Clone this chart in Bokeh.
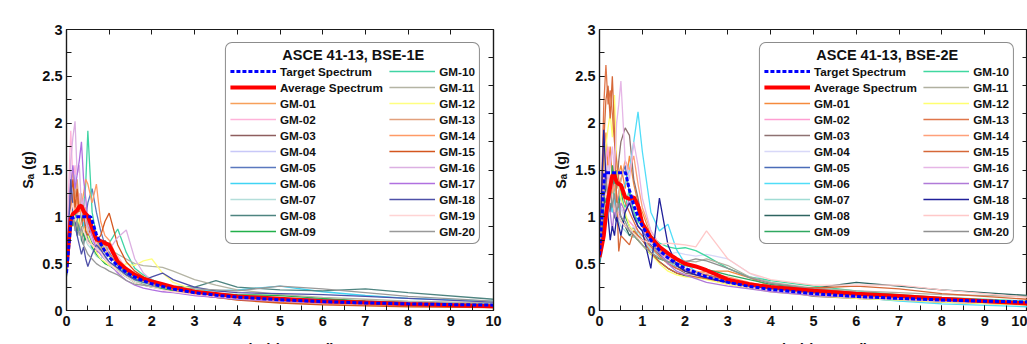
from bokeh.plotting import figure
from bokeh.layouts import row
from bokeh.models import FixedTicker, LinearAxis, Legend, LegendItem, Label, Range1d
from bokeh.embed import file_html
from bokeh.resources import INLINE

FONT = "Liberation Sans"

# ---------------- data ----------------
periods = [0.0, 0.05, 0.1, 0.15, 0.2, 0.25, 0.3, 0.35, 0.4, 0.45, 0.5, 0.6, 0.7, 0.8, 0.9, 1.0,
           1.2, 1.4, 1.6, 1.8, 2.0, 2.25, 2.5, 3.0, 3.5, 4.0, 5.0, 6.0, 7.0, 8.0, 10.0]

target_periods_1e = [0, 0.05, 0.11, 0.2, 0.3, 0.4, 0.5, 0.57, 0.7, 0.8, 0.9, 1.0, 1.2, 1.4, 1.6, 1.8,
                     2, 2.5, 3, 3.5, 4, 5, 6, 7, 8, 9, 10]
target_1e = [0.40, 0.66, 0.98, 1.0, 1.0, 1.0, 1.0, 1.0, 0.814, 0.713, 0.633, 0.57, 0.475, 0.407, 0.356,
             0.317, 0.285, 0.228, 0.19, 0.163, 0.143, 0.114, 0.095, 0.081, 0.071, 0.063, 0.057]
average_1e = [0.46, 0.72, 0.98, 1.03, 1.05, 1.07, 1.11, 1.12, 1.06, 1.03, 1.01, 0.88, 0.76, 0.74, 0.72, 0.70,
              0.52, 0.44, 0.38, 0.34, 0.31, 0.28, 0.25, 0.20, 0.175, 0.15, 0.125, 0.10, 0.085, 0.07, 0.045]

target_periods_2e = [0, 0.05, 0.12, 0.2, 0.3, 0.4, 0.5, 0.61, 0.7, 0.8, 0.9, 1.0, 1.2, 1.4, 1.6, 1.8,
                     2, 2.5, 3, 3.5, 4, 5, 6, 7, 8, 9, 10]
target_2e = [0.59, 0.95, 1.47, 1.47, 1.47, 1.47, 1.47, 1.47, 1.286, 1.125, 1.0, 0.9, 0.75, 0.643, 0.563,
             0.5, 0.45, 0.36, 0.3, 0.257, 0.225, 0.18, 0.15, 0.129, 0.113, 0.1, 0.09]
average_2e = [0.57, 0.68, 0.80, 1.02, 1.18, 1.32, 1.44, 1.45, 1.37, 1.35, 1.34, 1.21, 1.19, 1.21, 1.12, 0.93,
              0.78, 0.68, 0.61, 0.55, 0.50, 0.47, 0.43, 0.33, 0.28, 0.25, 0.21, 0.18, 0.155, 0.125, 0.075]

gm_names = ["GM-%02d" % i for i in range(1, 21)]

gm_1e_01 = [0.42, 0.70, 1.10, 1.25, 1.05, 1.30, 1.15, 0.95, 1.20, 1.00, 0.85, 0.90, 0.70, 0.62, 0.66, 0.58, 0.50, 0.45, 0.36, 0.32, 0.27, 0.24, 0.22, 0.17, 0.14, 0.12, 0.09, 0.07, 0.06, 0.05, 0.03]
gm_1e_02 = [0.45, 1.30, 1.92, 1.40, 1.55, 1.10, 1.25, 0.90, 1.00, 0.80, 0.85, 0.70, 0.72, 0.60, 0.55, 0.62, 0.58, 0.45, 0.35, 0.30, 0.28, 0.25, 0.21, 0.16, 0.14, 0.12, 0.10, 0.08, 0.06, 0.05, 0.04]
gm_1e_03 = [0.40, 0.85, 1.20, 1.05, 0.95, 0.85, 1.00, 0.90, 0.80, 0.95, 0.75, 0.70, 0.62, 0.66, 0.75, 0.68, 0.55, 0.40, 0.33, 0.28, 0.27, 0.24, 0.22, 0.19, 0.16, 0.14, 0.11, 0.10, 0.08, 0.07, 0.05]
gm_1e_04 = [0.44, 0.90, 1.35, 1.20, 1.45, 1.10, 0.95, 1.05, 0.85, 0.80, 0.90, 0.72, 0.60, 0.65, 0.55, 0.50, 0.47, 0.42, 0.38, 0.33, 0.30, 0.28, 0.25, 0.20, 0.17, 0.15, 0.12, 0.10, 0.09, 0.08, 0.06]
gm_1e_05 = [0.38, 0.70, 0.95, 1.10, 0.90, 1.05, 0.85, 0.95, 0.80, 1.00, 1.15, 1.30, 1.05, 0.85, 0.70, 0.62, 0.48, 0.40, 0.34, 0.30, 0.27, 0.24, 0.22, 0.19, 0.17, 0.15, 0.13, 0.12, 0.10, 0.09, 0.07]
gm_1e_06 = [0.40, 0.75, 1.15, 1.25, 1.00, 1.10, 0.90, 0.80, 0.95, 0.85, 0.80, 0.65, 0.70, 0.60, 0.55, 0.52, 0.45, 0.40, 0.35, 0.30, 0.28, 0.26, 0.24, 0.22, 0.21, 0.22, 0.26, 0.20, 0.16, 0.13, 0.10]
gm_1e_07 = [0.42, 0.80, 1.05, 0.95, 1.15, 0.90, 1.00, 0.85, 0.90, 0.75, 0.70, 0.65, 0.58, 0.55, 0.60, 0.52, 0.44, 0.38, 0.32, 0.29, 0.26, 0.23, 0.21, 0.18, 0.16, 0.14, 0.11, 0.09, 0.08, 0.07, 0.05]
gm_1e_08 = [0.36, 0.60, 0.85, 1.00, 0.90, 0.80, 0.95, 0.75, 0.70, 0.85, 0.80, 0.72, 0.65, 0.70, 0.62, 0.58, 0.52, 0.40, 0.33, 0.30, 0.28, 0.27, 0.26, 0.25, 0.32, 0.25, 0.22, 0.21, 0.23, 0.19, 0.12]
gm_1e_09 = [0.40, 0.70, 1.00, 0.90, 1.05, 0.85, 1.10, 0.95, 0.80, 0.75, 0.85, 0.68, 0.60, 0.55, 0.50, 0.48, 0.42, 0.36, 0.30, 0.27, 0.25, 0.23, 0.21, 0.19, 0.18, 0.17, 0.16, 0.13, 0.10, 0.08, 0.06]
gm_1e_10 = [0.40, 0.65, 0.90, 1.05, 0.95, 1.10, 1.00, 1.20, 1.05, 1.35, 1.92, 1.05, 0.80, 0.65, 0.70, 0.72, 0.87, 0.62, 0.45, 0.38, 0.33, 0.28, 0.24, 0.19, 0.16, 0.14, 0.11, 0.09, 0.08, 0.07, 0.05]
gm_1e_11 = [0.42, 0.80, 1.10, 1.00, 0.90, 1.05, 0.95, 0.85, 0.90, 0.80, 0.75, 0.70, 0.68, 0.72, 0.70, 0.66, 0.60, 0.55, 0.50, 0.48, 0.47, 0.46, 0.42, 0.33, 0.27, 0.22, 0.17, 0.14, 0.12, 0.10, 0.08]
gm_1e_12 = [0.40, 0.75, 1.05, 1.15, 0.95, 0.90, 1.00, 0.80, 0.85, 0.90, 0.80, 0.70, 0.62, 0.55, 0.52, 0.48, 0.45, 0.50, 0.48, 0.53, 0.55, 0.40, 0.30, 0.22, 0.18, 0.15, 0.11, 0.09, 0.07, 0.06, 0.04]
gm_1e_13 = [0.43, 0.85, 1.30, 1.50, 1.20, 1.40, 1.05, 1.25, 0.95, 1.10, 0.90, 0.80, 0.75, 0.65, 0.70, 0.60, 0.50, 0.42, 0.36, 0.31, 0.28, 0.25, 0.22, 0.17, 0.14, 0.12, 0.09, 0.07, 0.06, 0.05, 0.04]
gm_1e_14 = [0.40, 0.75, 1.10, 1.25, 1.05, 1.20, 1.00, 1.10, 1.25, 1.40, 1.35, 1.15, 1.35, 0.95, 0.80, 0.75, 0.55, 0.46, 0.40, 0.36, 0.32, 0.28, 0.24, 0.18, 0.15, 0.12, 0.09, 0.07, 0.06, 0.05, 0.04]
gm_1e_15 = [0.41, 0.80, 1.20, 1.40, 1.10, 1.30, 1.00, 0.90, 1.05, 0.85, 0.80, 0.90, 0.75, 0.80, 0.95, 1.04, 0.70, 0.52, 0.42, 0.36, 0.30, 0.26, 0.22, 0.17, 0.14, 0.11, 0.08, 0.06, 0.05, 0.04, 0.03]
gm_1e_16 = [0.45, 1.00, 1.60, 1.85, 2.02, 1.45, 1.55, 1.10, 1.20, 0.95, 0.85, 0.75, 0.68, 0.62, 0.60, 0.65, 0.78, 0.86, 0.55, 0.40, 0.32, 0.27, 0.23, 0.18, 0.15, 0.13, 0.10, 0.08, 0.07, 0.06, 0.04]
gm_1e_17 = [0.42, 0.95, 1.35, 1.55, 1.30, 1.45, 1.60, 1.80, 1.40, 1.20, 0.95, 0.80, 0.65, 0.60, 0.55, 0.50, 0.40, 0.32, 0.27, 0.24, 0.22, 0.20, 0.19, 0.16, 0.14, 0.12, 0.10, 0.08, 0.07, 0.06, 0.04]
gm_1e_18 = [0.38, 0.85, 1.40, 1.10, 0.95, 0.80, 0.70, 0.60, 0.68, 0.55, 0.47, 0.60, 0.70, 0.65, 0.58, 0.52, 0.45, 0.38, 0.33, 0.32, 0.36, 0.40, 0.33, 0.25, 0.21, 0.19, 0.18, 0.17, 0.15, 0.13, 0.09]
gm_1e_19 = [0.44, 0.80, 1.05, 1.15, 0.95, 1.00, 1.05, 0.90, 0.85, 0.80, 0.72, 0.70, 0.66, 0.62, 0.55, 0.50, 0.42, 0.36, 0.30, 0.27, 0.25, 0.22, 0.20, 0.17, 0.15, 0.13, 0.11, 0.10, 0.09, 0.08, 0.06]
gm_1e_20 = [0.37, 0.65, 0.90, 1.05, 0.85, 0.95, 0.80, 0.90, 0.70, 0.65, 0.60, 0.55, 0.50, 0.47, 0.45, 0.42, 0.38, 0.32, 0.28, 0.27, 0.26, 0.25, 0.24, 0.23, 0.22, 0.21, 0.26, 0.23, 0.19, 0.15, 0.10]

gm_2e_01 = [0.55, 1.00, 1.60, 1.90, 1.50, 1.75, 1.40, 1.60, 1.30, 1.45, 1.55, 1.30, 1.65, 1.35, 1.15, 1.05, 0.80, 0.65, 0.55, 0.48, 0.44, 0.40, 0.42, 0.42, 0.35, 0.26, 0.18, 0.14, 0.11, 0.09, 0.06]
gm_2e_02 = [0.58, 1.40, 2.00, 1.60, 1.75, 1.30, 1.45, 1.10, 1.25, 1.00, 1.10, 1.00, 0.95, 0.90, 0.85, 0.80, 0.70, 0.62, 0.55, 0.48, 0.42, 0.38, 0.34, 0.28, 0.24, 0.21, 0.16, 0.13, 0.11, 0.09, 0.07]
gm_2e_03 = [0.55, 0.95, 1.40, 1.20, 1.35, 1.10, 1.25, 1.45, 1.30, 1.60, 1.80, 1.95, 1.87, 1.40, 1.20, 0.95, 0.75, 0.60, 0.50, 0.45, 0.40, 0.38, 0.36, 0.32, 0.27, 0.23, 0.15, 0.13, 0.11, 0.09, 0.07]
gm_2e_04 = [0.60, 1.05, 1.45, 1.30, 1.55, 1.20, 1.05, 1.15, 0.95, 1.00, 1.10, 0.95, 0.85, 0.90, 0.80, 0.75, 0.65, 0.62, 0.60, 0.62, 0.60, 0.58, 0.60, 0.55, 0.40, 0.30, 0.22, 0.18, 0.15, 0.12, 0.08]
gm_2e_05 = [0.52, 0.85, 1.20, 1.35, 1.10, 1.30, 1.05, 1.20, 1.00, 1.25, 1.40, 1.55, 1.25, 1.05, 0.90, 0.85, 0.70, 0.60, 0.52, 0.47, 0.44, 0.40, 0.38, 0.33, 0.29, 0.26, 0.21, 0.18, 0.15, 0.12, 0.08]
gm_2e_06 = [0.50, 0.60, 0.95, 1.10, 1.30, 1.15, 1.05, 1.20, 1.00, 1.10, 1.25, 1.35, 1.50, 1.80, 2.12, 1.70, 1.05, 0.85, 0.92, 0.65, 0.50, 0.42, 0.36, 0.30, 0.26, 0.23, 0.18, 0.14, 0.10, 0.07, 0.04]
gm_2e_07 = [0.55, 0.95, 1.25, 1.15, 1.35, 1.10, 1.20, 1.00, 1.05, 0.95, 0.90, 0.85, 0.80, 0.78, 0.85, 0.75, 0.65, 0.58, 0.52, 0.48, 0.45, 0.40, 0.36, 0.30, 0.26, 0.22, 0.17, 0.14, 0.12, 0.10, 0.07]
gm_2e_08 = [0.50, 0.80, 1.10, 1.30, 1.15, 1.05, 1.25, 1.00, 0.95, 1.05, 1.00, 0.90, 0.80, 0.85, 0.75, 0.70, 0.60, 0.52, 0.45, 0.40, 0.37, 0.35, 0.34, 0.30, 0.27, 0.25, 0.24, 0.30, 0.26, 0.22, 0.16]
gm_2e_09 = [0.52, 0.85, 1.25, 1.15, 1.40, 1.20, 1.55, 1.35, 1.20, 1.10, 1.30, 1.00, 0.90, 0.80, 0.75, 0.70, 0.60, 0.55, 0.52, 0.50, 0.48, 0.46, 0.44, 0.38, 0.33, 0.28, 0.23, 0.19, 0.15, 0.12, 0.08]
gm_2e_10 = [0.55, 0.90, 1.30, 1.45, 1.25, 1.40, 1.15, 1.30, 1.50, 1.35, 1.20, 1.10, 1.30, 1.05, 0.95, 0.90, 0.80, 0.72, 0.68, 0.66, 0.67, 0.64, 0.58, 0.45, 0.36, 0.32, 0.26, 0.21, 0.17, 0.14, 0.10]
gm_2e_11 = [0.57, 0.95, 1.30, 1.20, 1.10, 1.25, 1.15, 1.05, 1.10, 1.00, 0.95, 0.90, 0.85, 0.88, 0.80, 0.75, 0.68, 0.62, 0.58, 0.55, 0.53, 0.52, 0.55, 0.48, 0.36, 0.30, 0.24, 0.21, 0.19, 0.17, 0.15]
gm_2e_12 = [0.55, 1.00, 1.50, 1.75, 1.95, 2.10, 1.85, 2.30, 1.60, 1.35, 1.20, 1.05, 0.90, 0.85, 0.75, 0.70, 0.60, 0.50, 0.42, 0.38, 0.36, 0.35, 0.33, 0.28, 0.24, 0.20, 0.16, 0.13, 0.11, 0.09, 0.06]
gm_2e_13 = [0.58, 1.30, 2.20, 2.62, 2.20, 2.35, 2.10, 1.80, 1.60, 1.40, 1.30, 1.15, 1.05, 0.95, 0.85, 0.80, 0.68, 0.58, 0.50, 0.45, 0.42, 0.40, 0.38, 0.32, 0.27, 0.23, 0.18, 0.15, 0.13, 0.11, 0.08]
gm_2e_14 = [0.55, 1.00, 1.40, 1.55, 1.30, 1.45, 1.25, 1.35, 1.15, 1.25, 1.40, 1.60, 1.50, 1.65, 1.35, 1.10, 0.85, 0.70, 0.58, 0.50, 0.45, 0.42, 0.40, 0.36, 0.30, 0.25, 0.20, 0.16, 0.13, 0.11, 0.08]
gm_2e_15 = [0.56, 1.10, 1.80, 2.25, 2.40, 2.05, 2.50, 1.90, 1.20, 0.63, 0.80, 0.75, 0.70, 0.85, 0.80, 0.75, 0.62, 0.52, 0.45, 0.40, 0.38, 0.36, 0.34, 0.30, 0.27, 0.25, 0.24, 0.26, 0.23, 0.18, 0.12]
gm_2e_16 = [0.55, 0.95, 1.40, 1.60, 1.35, 1.55, 1.75, 1.50, 2.00, 2.20, 2.45, 1.60, 1.40, 1.80, 1.55, 1.20, 0.85, 0.70, 0.58, 0.50, 0.45, 0.40, 0.36, 0.30, 0.25, 0.21, 0.17, 0.14, 0.12, 0.10, 0.07]
gm_2e_17 = [0.54, 0.95, 1.35, 1.50, 1.25, 1.05, 0.85, 1.10, 0.95, 1.00, 1.15, 1.05, 1.20, 1.00, 0.90, 0.85, 0.75, 0.62, 0.50, 0.42, 0.38, 0.34, 0.30, 0.26, 0.23, 0.20, 0.16, 0.14, 0.12, 0.10, 0.07]
gm_2e_18 = [0.52, 1.30, 1.93, 1.40, 1.00, 0.75, 0.90, 0.80, 1.00, 0.90, 0.80, 1.05, 1.15, 1.00, 0.90, 0.85, 0.45, 1.20, 0.70, 0.48, 0.42, 0.38, 0.35, 0.30, 0.26, 0.24, 0.20, 0.18, 0.15, 0.12, 0.08]
gm_2e_19 = [0.58, 0.95, 1.30, 1.20, 1.40, 1.15, 1.25, 1.05, 1.15, 1.00, 0.95, 0.90, 0.88, 0.82, 0.78, 0.75, 0.72, 0.70, 0.72, 0.71, 0.70, 0.68, 0.85, 0.55, 0.40, 0.33, 0.27, 0.27, 0.27, 0.22, 0.14]
gm_2e_20 = [0.53, 0.90, 1.25, 1.40, 1.20, 1.30, 1.10, 1.25, 1.05, 1.15, 1.00, 0.95, 0.85, 0.80, 0.75, 0.70, 0.62, 0.56, 0.52, 0.50, 0.52, 0.55, 0.53, 0.45, 0.35, 0.29, 0.23, 0.19, 0.16, 0.13, 0.09]

gms_1e = [gm_1e_01, gm_1e_02, gm_1e_03, gm_1e_04, gm_1e_05, gm_1e_06, gm_1e_07, gm_1e_08, gm_1e_09, gm_1e_10,
          gm_1e_11, gm_1e_12, gm_1e_13, gm_1e_14, gm_1e_15, gm_1e_16, gm_1e_17, gm_1e_18, gm_1e_19, gm_1e_20]
gms_2e = [gm_2e_01, gm_2e_02, gm_2e_03, gm_2e_04, gm_2e_05, gm_2e_06, gm_2e_07, gm_2e_08, gm_2e_09, gm_2e_10,
          gm_2e_11, gm_2e_12, gm_2e_13, gm_2e_14, gm_2e_15, gm_2e_16, gm_2e_17, gm_2e_18, gm_2e_19, gm_2e_20]

colors_1e = ["#F7A05A", "#FFB3D9", "#8E5E5E", "#C8C8F8", "#5A78BE", "#40D4F4", "#B4DEDA", "#4E8480",
             "#22B04A", "#40D4A4", "#B4B4A4", "#FFFF80", "#E2A07C", "#FF9A66", "#D4561E", "#DCB0E2",
             "#B070E0", "#4E50A8", "#FFD4D4", "#999999"]
colors_2e = ["#F58A3C", "#FF9ED2", "#8E7272", "#D8D8F8", "#4A6CB8", "#50DDF8", "#A0DCD4", "#2E6460",
             "#30A860", "#40D8A0", "#B0B0A0", "#FFFF70", "#E0764A", "#FFA07A", "#D66838", "#E6B6E6",
             "#B07AD8", "#20209A", "#FFC8C8", "#909090"]

x_ticks = list(range(0, 11))
x_minor = [i * 0.5 for i in range(0, 21)]
y_ticks = [0, 0.5, 1, 1.5, 2, 2.5, 3]
y_minor = [i * 0.25 for i in range(0, 13)]
y_right_ticks = [round(i * 0.3, 1) for i in range(0, 11)]

NBSP = "\u00a0"


def style_axis(ax, ticks, minor=None, labels=True):
    ax.ticker = FixedTicker(ticks=ticks, minor_ticks=minor or [])
    ax.axis_line_color = "#1a1a1a"
    ax.axis_line_width = 1.2
    ax.major_tick_in = 5
    ax.major_tick_out = 0
    ax.minor_tick_in = 5
    ax.minor_tick_out = 0
    ax.major_tick_line_color = "#1a1a1a"
    ax.minor_tick_line_color = "#1a1a1a"
    ax.major_label_text_font = FONT
    ax.major_label_text_font_style = "bold"
    ax.major_label_text_color = "#111111"
    ax.major_label_text_font_size = "14.5px"
    if not labels:
        ax.major_label_overrides = {t: "" for t in ticks}
        ax.major_label_standoff = 0


def make_panel(title, tp, target, avg, gms, colors, width, borders):
    left, right, top, bottom = borders
    p = figure(width=width, height=344, x_range=Range1d(0, 10), y_range=Range1d(0, 3),
               output_backend="svg", toolbar_location=None,
               min_border_left=left, min_border_right=right,
               min_border_top=top, min_border_bottom=bottom)
    p.xgrid.visible = False
    p.ygrid.visible = False
    p.outline_line_color = "#1a1a1a"
    p.outline_line_width = 1.2
    p.background_fill_color = "white"

    style_axis(p.xaxis[0], x_ticks, x_minor)
    p.xaxis[0].major_label_standoff = 5
    style_axis(p.yaxis[0], y_ticks, y_minor)
    p.yaxis[0].major_label_standoff = 4
    p.yaxis[0].axis_label = "S\u2090 (g)"
    p.yaxis[0].axis_label_text_font = FONT
    p.yaxis[0].axis_label_text_font_style = "bold"
    p.yaxis[0].axis_label_text_font_size = "14.5px"
    p.yaxis[0].axis_label_text_color = "#111111"
    p.yaxis[0].axis_label_standoff = 3

    top_ax = LinearAxis()
    style_axis(top_ax, x_ticks, None, labels=False)
    p.add_layout(top_ax, "above")
    right_ax = LinearAxis()
    style_axis(right_ax, y_right_ticks, None, labels=False)
    p.add_layout(right_ax, "right")

    renderers = []
    for vals, col in zip(gms, colors):
        r = p.line(periods, vals, line_color=col, line_width=1.3)
        renderers.append(r)
    r_avg = p.line(periods, avg, line_color="#FF0000", line_width=4)
    r_tgt = p.line(tp, target, line_color="#0000FF", line_width=3, line_dash="4 2")

    items = [LegendItem(label="Target Spectrum", renderers=[r_tgt]),
             LegendItem(label="Average Spectrum" + NBSP * 2, renderers=[r_avg])]
    for name, r in zip(gm_names, renderers):
        items.append(LegendItem(label=name, renderers=[r]))

    legend = Legend(items=items, location="top_right", ncols=2, title=NBSP * 13 + title)
    legend.label_text_font = FONT
    legend.label_text_font_style = "bold"
    legend.label_text_font_size = "11.7px"
    legend.label_text_color = "#111111"
    legend.title_text_font = FONT
    legend.title_text_font_style = "bold"
    legend.title_text_font_size = "14.5px"
    legend.title_text_color = "#111111"
    legend.title_standoff = 0
    legend.glyph_width = 46
    legend.glyph_height = 16
    legend.label_height = 16
    legend.label_standoff = 4
    legend.spacing = 0
    legend.padding = 4
    legend.margin = 13
    legend.border_line_color = "#1a1a1a"
    legend.border_line_width = 1.2
    legend.background_fill_alpha = 1.0
    try:
        legend.border_radius = 7
    except Exception:
        pass
    p.add_layout(legend)

    # x axis label, placed in the bottom side panel (cut off by the image edge as in the reference)
    p.add_layout(Label(text="Period (second)", x=(width - left - right) / 2, y=4,
                       x_units="screen", y_units="screen", text_align="center",
                       text_baseline="top", text_font=FONT, text_font_style="bold",
                       text_font_size="14.5px", text_color="#111111"), "below")
    return p


p1 = make_panel("ASCE 41-13, BSE-1E", target_periods_1e, target_1e, average_1e, gms_1e, colors_1e,
                535, (66, 42, 29, 28))
p2 = make_panel("ASCE 41-13, BSE-2E", target_periods_2e, target_2e, average_2e, gms_2e, colors_2e,
                492, (64, 0, 29, 28))

layout = row(p1, p2)
open("out.html", "w").write(file_html(layout, INLINE))
